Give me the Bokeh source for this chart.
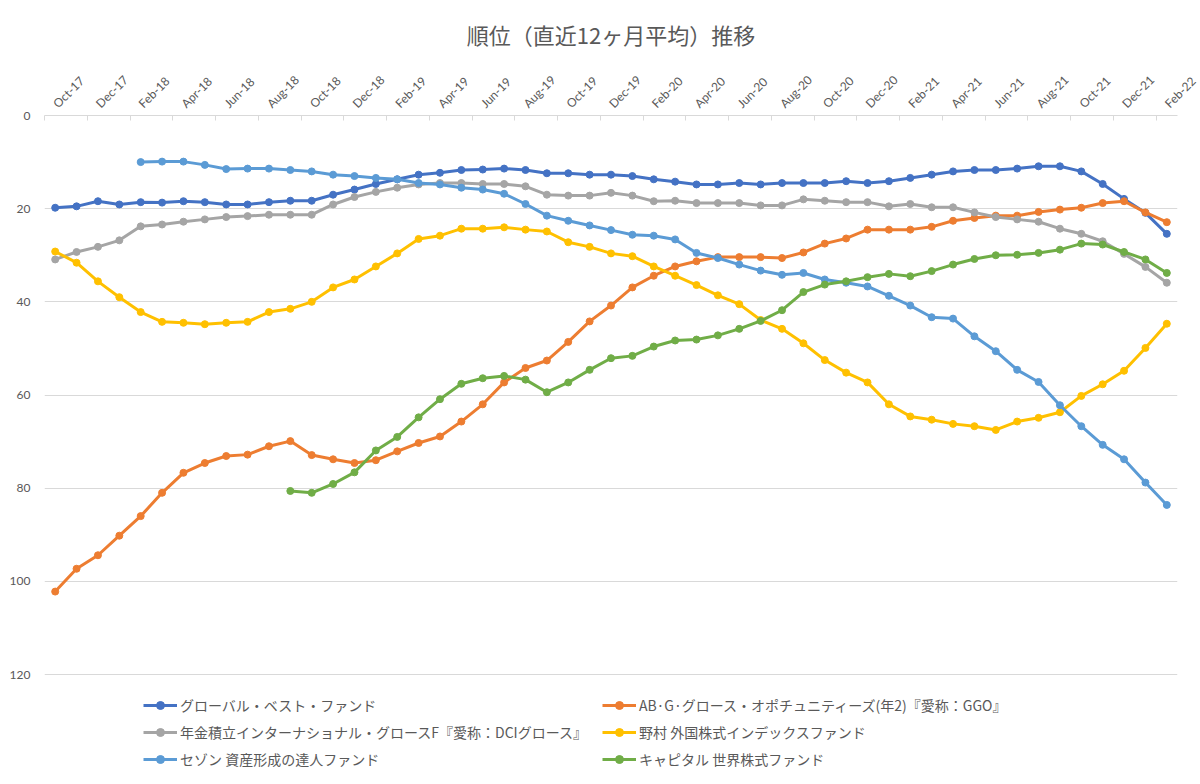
import math
from bokeh.plotting import figure
from bokeh.models import Range1d, FixedTicker, Legend, LegendItem, ColumnDataSource
from bokeh.embed import file_html
from bokeh.resources import INLINE

# ---------------- data ----------------
months = ["Oct-17", "Nov-17", "Dec-17",
          "Jan-18", "Feb-18", "Mar-18", "Apr-18", "May-18", "Jun-18",
          "Jul-18", "Aug-18", "Sep-18", "Oct-18", "Nov-18", "Dec-18",
          "Jan-19", "Feb-19", "Mar-19", "Apr-19", "May-19", "Jun-19",
          "Jul-19", "Aug-19", "Sep-19", "Oct-19", "Nov-19", "Dec-19",
          "Jan-20", "Feb-20", "Mar-20", "Apr-20", "May-20", "Jun-20",
          "Jul-20", "Aug-20", "Sep-20", "Oct-20", "Nov-20", "Dec-20",
          "Jan-21", "Feb-21", "Mar-21", "Apr-21", "May-21", "Jun-21",
          "Jul-21", "Aug-21", "Sep-21", "Oct-21", "Nov-21", "Dec-21",
          "Jan-22", "Feb-22"]

y_ticks = [0, 20, 40, 60, 80, 100, 120]

names = ["グローバル・ベスト・ファンド",
         "AB·G·グロース・オポチュニティーズ(年2)『愛称：GGO』",
         "年金積立インターナショナル・グロースF『愛称：DCIグロース』",
         "野村 外国株式インデックスファンド",
         "セゾン 資産形成の達人ファンド",
         "キャピタル 世界株式ファンド"]

# Series start month (first month with a value)
global_best_start = "Oct-17"
global_best = [19.8, 19.5, 18.4, 19.1, 18.6, 18.7, 18.4, 18.6, 19.1, 19.1,
               18.6, 18.3, 18.3, 17.0, 15.9, 14.7, 13.7, 12.7, 12.3, 11.7,
               11.6, 11.4, 11.7, 12.4, 12.4, 12.7, 12.7, 13.0, 13.7, 14.2,
               14.8, 14.8, 14.5, 14.8, 14.5, 14.5, 14.5, 14.1, 14.5, 14.1,
               13.4, 12.7, 12.0, 11.7, 11.7, 11.4, 10.9, 10.9, 12.0, 14.7,
               17.9, 20.9, 25.4]

ab_ggo_start = "Oct-17"
ab_ggo = [102.2, 97.3, 94.4, 90.2, 86.0, 81.0, 76.7, 74.6, 73.1, 72.8,
          71.0, 69.9, 72.9, 73.8, 74.6, 74.0, 72.1, 70.3, 68.9, 65.7,
          62.0, 57.3, 54.2, 52.6, 48.6, 44.2, 40.8, 36.9, 34.4, 32.4,
          31.3, 30.4, 30.4, 30.4, 30.6, 29.4, 27.5, 26.4, 24.5, 24.5,
          24.5, 23.9, 22.6, 22.0, 21.5, 21.5, 20.7, 20.2, 19.8, 18.8,
          18.4, 20.8, 22.9]

nenkin_dci_start = "Oct-17"
nenkin_dci = [30.9, 29.3, 28.2, 26.8, 23.8, 23.4, 22.8, 22.3, 21.8, 21.6,
              21.3, 21.3, 21.3, 19.1, 17.5, 16.4, 15.5, 14.8, 14.5, 14.5,
              14.7, 14.7, 15.2, 17.0, 17.2, 17.2, 16.6, 17.2, 18.4, 18.3,
              18.8, 18.8, 18.8, 19.3, 19.3, 18.0, 18.3, 18.6, 18.6, 19.5,
              19.0, 19.7, 19.7, 20.8, 21.8, 22.3, 22.8, 24.3, 25.4, 27.0,
              29.7, 32.5, 35.9]

nomura_start = "Oct-17"
nomura = [29.2, 31.6, 35.6, 39.0, 42.2, 44.3, 44.5, 44.8, 44.5, 44.3,
          42.2, 41.5, 40.0, 36.9, 35.2, 32.4, 29.6, 26.5, 25.8, 24.3,
          24.3, 24.0, 24.5, 24.9, 27.2, 28.2, 29.6, 30.2, 32.4, 34.4,
          36.4, 38.6, 40.5, 43.9, 45.8, 48.9, 52.5, 55.2, 57.3, 62.0,
          64.6, 65.3, 66.2, 66.7, 67.5, 65.7, 64.9, 63.7, 60.2, 57.7,
          54.8, 49.9, 44.7]

saison_start = "Feb-18"
saison = [10.0, 9.9, 9.9, 10.6, 11.5, 11.4, 11.4, 11.7, 12.0, 12.7,
          13.0, 13.4, 13.7, 14.5, 14.8, 15.5, 15.9, 16.8, 19.0, 21.5,
          22.6, 23.6, 24.6, 25.6, 25.8, 26.6, 29.5, 30.6, 32.0, 33.3,
          34.2, 33.8, 35.2, 35.9, 36.7, 38.7, 40.8, 43.3, 43.6, 47.4,
          50.6, 54.6, 57.2, 62.2, 66.7, 70.7, 73.8, 78.8, 83.6]

capital_start = "Sep-18"
capital = [80.6, 81.0, 79.1, 76.6, 71.9, 69.0, 64.8, 60.9, 57.6, 56.4,
           55.9, 56.7, 59.4, 57.3, 54.6, 52.1, 51.6, 49.6, 48.3, 48.1,
           47.2, 45.8, 44.1, 41.8, 37.9, 36.3, 35.6, 34.7, 34.0, 34.5,
           33.4, 32.0, 30.8, 30.0, 29.9, 29.5, 28.8, 27.5, 27.7, 29.3,
           30.9, 33.8]

# ---------------- styling ----------------
colors = ["#4472C4", "#ED7D31", "#A5A5A5", "#FFC000", "#5B9BD5", "#70AD47"]
JP = "Noto Sans CJK JP"
TXT = "#595959"

W, H = 1200, 784
TOP, AXIS_BOTTOM = 115, 674          # pixel rows of y=0 and y=120
# the frame runs to the canvas bottom so the legend can sit inside it
y_low = y_ticks[-1] * (H - TOP) / (AXIS_BOTTOM - TOP)

p = figure(width=W, height=H, output_backend="svg", toolbar_location=None,
           x_axis_location="above",
           x_range=Range1d(-0.5, len(months) - 0.5),
           y_range=Range1d(y_low, y_ticks[0]),
           min_border_left=44, min_border_right=23,
           min_border_top=TOP, min_border_bottom=0)

p.outline_line_color = None
p.background_fill_color = "white"
p.border_fill_color = "white"

p.title.text = "順位（直近12ヶ月平均）推移"
p.title.align = "center"
p.title.vertical_align = "top"
p.title.text_font = JP
p.title.text_font_size = "22px"
p.title.text_font_style = "normal"
p.title.text_color = TXT
p.title.standoff = 26

# x axis (top)
label_idx = list(range(0, len(months), 2))
p.xaxis.ticker = FixedTicker(ticks=label_idx,
                             minor_ticks=[i - 0.5 for i in range(0, len(months) + 1, 2)])
p.xaxis.major_label_overrides = {i: months[i] for i in label_idx}
p.xaxis.major_label_orientation = math.pi / 4
p.xaxis.major_label_text_font = "Lato"
p.xaxis.major_label_text_font_size = "12px"
p.xaxis.major_label_text_color = TXT
p.xaxis.major_label_standoff = 10
p.xaxis.major_tick_in = 0
p.xaxis.major_tick_out = 0
p.xaxis.minor_tick_in = 5
p.xaxis.minor_tick_out = 0
p.xaxis.minor_tick_line_color = "#d9d9d9"
p.xaxis.axis_line_color = "#d9d9d9"

# y axis
p.yaxis.ticker = FixedTicker(ticks=y_ticks)
p.yaxis.axis_line_color = None
p.yaxis.major_tick_line_color = None
p.yaxis.minor_tick_line_color = None
p.yaxis.major_label_text_font = "Lato"
p.yaxis.major_label_text_font_size = "12px"
p.yaxis.major_label_text_color = TXT
p.yaxis.major_label_standoff = 8

p.xgrid.grid_line_color = None
p.ygrid.ticker = FixedTicker(ticks=y_ticks)
p.ygrid.grid_line_color = "#d9d9d9"

series = [(global_best, global_best_start), (ab_ggo, ab_ggo_start),
          (nenkin_dci, nenkin_dci_start), (nomura, nomura_start),
          (saison, saison_start), (capital, capital_start)]

items = []
for (vals, start), name, col in zip(series, names, colors):
    s0 = months.index(start)
    src = ColumnDataSource(dict(x=list(range(s0, s0 + len(vals))), y=vals))
    lr = p.line("x", "y", source=src, line_width=3, line_color=col, line_join="round")
    sr = p.scatter("x", "y", source=src, size=7, fill_color=col, line_color=col)
    items.append(LegendItem(label=name, renderers=[lr, sr]))

legend = Legend(items=items, location=(99, 15), orientation="horizontal", ncols=2,
                glyph_width=34, glyph_height=20, label_height=20, label_width=415,
                label_standoff=3, spacing=7, padding=0, margin=0,
                label_text_font=JP, label_text_font_size="14px",
                label_text_color=TXT, border_line_color=None,
                background_fill_alpha=0)
p.add_layout(legend)

open("out.html", "w").write(file_html(p, INLINE))
